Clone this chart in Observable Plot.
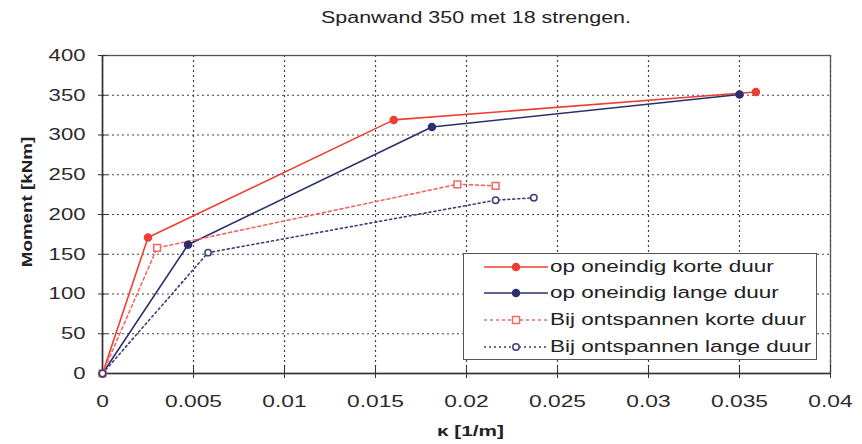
<!DOCTYPE html>
<html>
<head>
<meta charset="utf-8">
<script src="https://cdn.jsdelivr.net/npm/d3@7"></script>
<script src="https://cdn.jsdelivr.net/npm/@observablehq/plot@0.6"></script>
<style>
  body { margin: 0; background: #fff; font-family: "Liberation Sans", Arial, sans-serif; }
  #wrap { position: relative; width: 862px; height: 444px; }
  #title { position: relative; height: 40px; }
  #title span { position: absolute; left: 476px; top: 8px; font-size: 16px; line-height: 20px; color: #222;
    white-space: nowrap; transform: translateX(-50%) scaleX(1.34); }
  #ylabel { position: absolute; left: 27px; top: 202px; font-size: 14px; font-weight: bold; line-height: 16px;
    color: #222; white-space: nowrap; transform: translate(-50%, -50%) rotate(-90deg) scaleX(1.34); }
  #legend { position: absolute; left: 463px; top: 253px; width: 354px; height: 107px; box-sizing: border-box;
    border: 1.5px solid #555; background: #fff; }
  .row { position: absolute; left: 0; height: 20px; width: 100%; }
  .row svg { position: absolute; left: 19px; top: 3px; }
  .row span { position: absolute; left: 86px; top: 0; font-size: 16.8px; line-height: 20px; color: #222;
    white-space: nowrap; transform-origin: left center; transform: scaleX(1.34); }
</style>
</head>
<body>
<div id="wrap">
  <div id="title"><span></span></div>
  <div id="chart"></div>
  <div id="ylabel"></div>
  <div id="legend"></div>
</div>
<script>
// ---- Data ----
const titleText = "Spanwand 350 met 18 strengen.";
const xLabel = "κ [1/m]";
const yLabel = "Moment [kNm]";

const seriesNames = [
  "op oneindig korte duur",
  "op oneindig lange duur",
  "Bij ontspannen korte duur",
  "Bij ontspannen lange duur"
];

const kappaKortOneindig = [0, 0.0025, 0.0160, 0.0359];
const momentKortOneindig = [0, 171, 319, 354];

const kappaLangOneindig = [0, 0.0047, 0.0181, 0.0350];
const momentLangOneindig = [0, 162, 310, 351];

const kappaKortOntspannen = [0, 0.0030, 0.0195, 0.0216];
const momentKortOntspannen = [0, 158, 238, 236];

const kappaLangOntspannen = [0, 0.0058, 0.0216, 0.0237];
const momentLangOntspannen = [0, 152, 218, 221];

const xTicks = [0, 0.005, 0.01, 0.015, 0.02, 0.025, 0.03, 0.035, 0.04];
const xTickLabels = ["0", "0.005", "0.01", "0.015", "0.02", "0.025", "0.03", "0.035", "0.04"];
const yTicks = [0, 50, 100, 150, 200, 250, 300, 350, 400];

// ---- Styles ----
const styles = [
  {stroke: "#ee3f33", dash: null, symbol: "circle", fill: "#ee3f33", r: 3.5},
  {stroke: "#2c2f6c", dash: null, symbol: "circle", fill: "#2c2f6c", r: 3.5},
  {stroke: "#f2675f", dash: "3,3", symbol: "square", fill: "#fff", r: 3.8},
  {stroke: "#3a3f78", dash: "2,3", symbol: "circle", fill: "#fff", r: 3.2}
];

const rows = (k, m) => k.map((x, i) => ({x, y: m[i]}));
const data = [
  rows(kappaKortOneindig, momentKortOneindig),
  rows(kappaLangOneindig, momentLangOneindig),
  rows(kappaKortOntspannen, momentKortOntspannen),
  rows(kappaLangOntspannen, momentLangOntspannen)
];

const lineMarks = data.map((d, i) => Plot.line(d, {
  x: "x", y: "y", stroke: styles[i].stroke, strokeWidth: 1.6,
  strokeDasharray: styles[i].dash || undefined
}));
const dotMarks = data.map((d, i) => Plot.dot(d, {
  x: "x", y: "y", symbol: styles[i].symbol, r: styles[i].r,
  stroke: styles[i].stroke, fill: styles[i].fill, strokeWidth: 1.5
}));

const chart = Plot.plot({
  width: 862, height: 404,
  marginTop: 15, marginRight: 32, marginBottom: 71, marginLeft: 102,
  style: {fontFamily: "'Liberation Sans', Arial, sans-serif", fontSize: "17px", color: "#2a2a2a", background: "#fff"},
  x: {domain: [0, 0.04]},
  y: {domain: [0, 400]},
  marks: [
    Plot.gridX(xTicks, {stroke: "#222", strokeOpacity: 0.85, strokeWidth: 1.2, strokeDasharray: "2,3"}),
    Plot.gridY(yTicks, {stroke: "#222", strokeOpacity: 0.85, strokeWidth: 1.2, strokeDasharray: "2,3"}),
    Plot.frame({stroke: "#555", strokeWidth: 1.3}),
    Plot.ruleX([0], {stroke: "#333", strokeWidth: 1.5}),
    Plot.ruleY([0], {stroke: "#333", strokeWidth: 1.5}),
    Plot.axisX(xTicks, {tickSize: 5, tickPadding: 16, fontSize: 17, label: null,
      tickFormat: d => xTickLabels[xTicks.indexOf(d)], stroke: "#333"}),
    Plot.axisY(yTicks, {tickSize: 4, tickPadding: 13, fontSize: 16.5, label: null, stroke: "#333"}),
    Plot.tickX(xTicks, {x: d => d, insetTop: 318 - 8, stroke: "#333"}),
    Plot.tickY(yTicks, {y: d => d, insetRight: 728 - 5, stroke: "#333"}),
    Plot.text([xLabel], {frameAnchor: "bottom", dx: 4, dy: 62, fontWeight: "bold", fontSize: 15.5, fill: "#222"}),
    ...lineMarks,
    ...dotMarks
  ]
});

// horizontally stretch all SVG text to match the reference's wide lettering
const S = 1.34;
chart.querySelectorAll("text").forEach(t => {
  let tr = t.getAttribute("transform") || "";
  const x = t.getAttribute("x");
  if (x && !/em$/.test(x) && +x !== 0) { tr += ` translate(${+x},0)`; t.setAttribute("x", 0); }
  const dx = t.getAttribute("dx");
  if (dx && !/em$/.test(dx) && +dx !== 0) { tr += ` translate(${+dx},0)`; t.removeAttribute("dx"); }
  t.setAttribute("transform", tr + ` scale(${S},1)`);
});

document.getElementById("chart").appendChild(chart);
document.querySelector("#title span").textContent = titleText;
document.getElementById("ylabel").textContent = yLabel;

// legend
const legend = document.getElementById("legend");
const rowCenters = [14, 40.5, 67.5, 94];
seriesNames.forEach((name, i) => {
  const st = styles[i];
  const row = document.createElement("div");
  row.className = "row";
  row.style.top = (rowCenters[i] - 1.5 - 10) + "px";
  const ns = "http://www.w3.org/2000/svg";
  const svg = document.createElementNS(ns, "svg");
  svg.setAttribute("width", 66); svg.setAttribute("height", 14);
  const ln = document.createElementNS(ns, "line");
  ln.setAttribute("x1", 1); ln.setAttribute("x2", 65); ln.setAttribute("y1", 7); ln.setAttribute("y2", 7);
  ln.setAttribute("stroke", st.stroke); ln.setAttribute("stroke-width", 1.5);
  if (st.dash) ln.setAttribute("stroke-dasharray", st.dash);
  svg.appendChild(ln);
  let mk;
  if (st.symbol === "square") {
    mk = document.createElementNS(ns, "rect");
    mk.setAttribute("x", 29.5); mk.setAttribute("y", 3.5); mk.setAttribute("width", 7); mk.setAttribute("height", 7);
  } else {
    mk = document.createElementNS(ns, "circle");
    mk.setAttribute("cx", 33); mk.setAttribute("cy", 7); mk.setAttribute("r", st.r);
  }
  mk.setAttribute("fill", st.fill); mk.setAttribute("stroke", st.stroke); mk.setAttribute("stroke-width", 1.5);
  svg.appendChild(mk);
  row.appendChild(svg);
  const sp = document.createElement("span");
  sp.textContent = name;
  row.appendChild(sp);
  legend.appendChild(row);
});
</script>
</body>
</html>
